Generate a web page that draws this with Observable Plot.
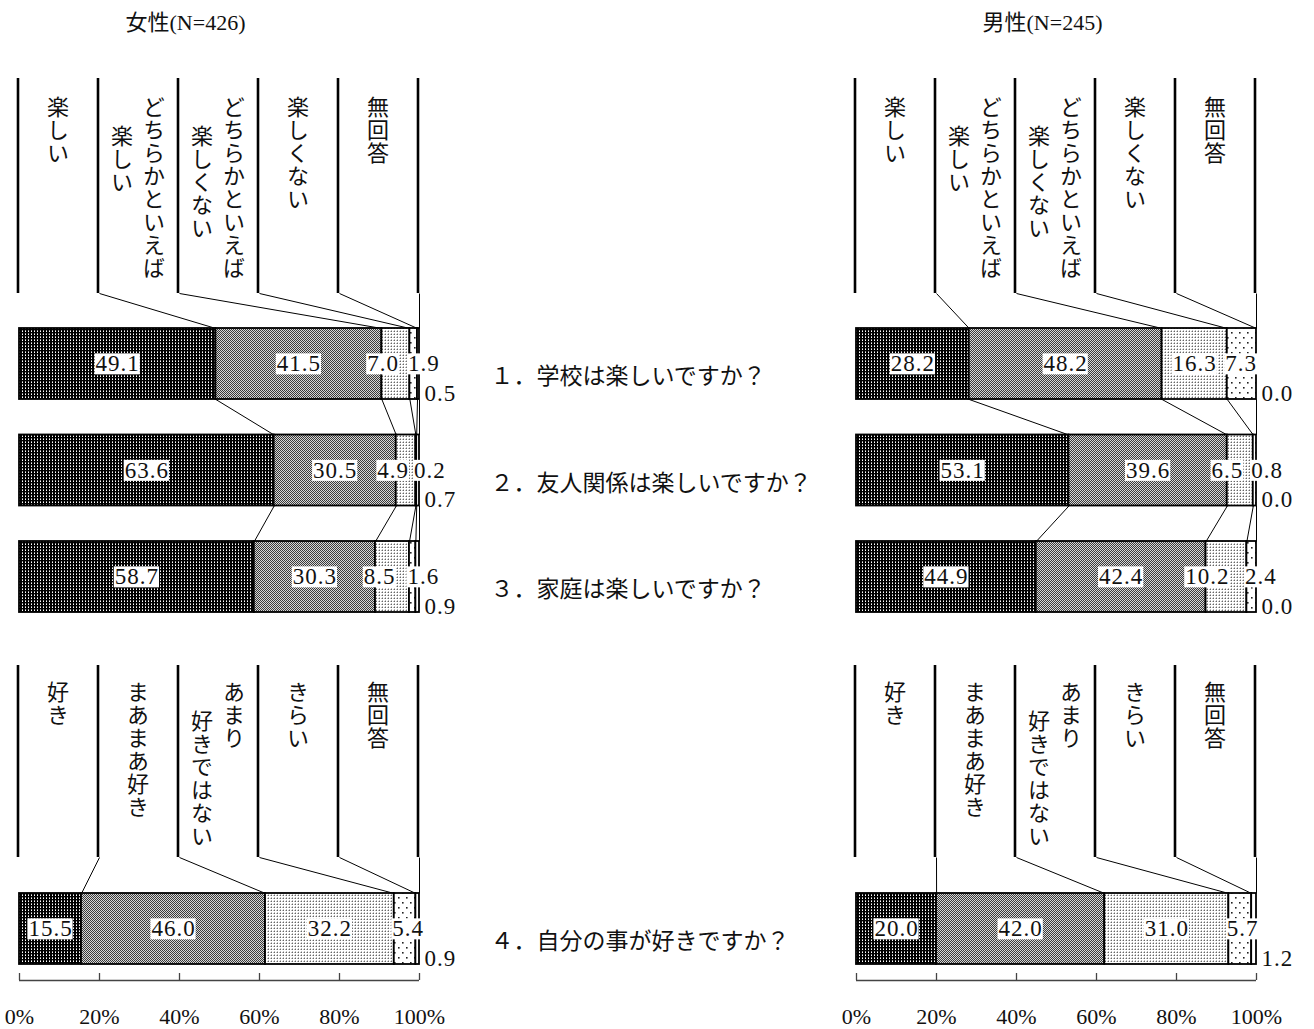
<!DOCTYPE html>
<html>
<head>
<meta charset="utf-8">
<script src="https://cdn.jsdelivr.net/npm/d3@7"></script>
<script src="https://cdn.jsdelivr.net/npm/@observablehq/plot@0.6"></script>
<style>
  body { margin: 0; background: #fff; }
  #chart svg { display: block; }
</style>
</head>
<body>
<!-- Hatch fills for the five answer categories -->
<svg width="0" height="0" style="position:absolute">
  <defs>
    <pattern id="fill-0" width="3" height="3" patternUnits="userSpaceOnUse">
      <rect width="3" height="3" fill="#000"/>
      <rect x="1" y="1" width="1" height="1" fill="#fff"/>
      <rect x="1" y="0" width="1" height="1" fill="#9a9a9a"/>
    </pattern>
    <pattern id="fill-1" width="2" height="2" patternUnits="userSpaceOnUse">
      <rect width="2" height="2" fill="#d6d6d6"/>
      <rect x="0" y="0" width="1" height="1" fill="#3a3a3a"/>
      <rect x="1" y="1" width="1" height="1" fill="#3a3a3a"/>
    </pattern>
    <pattern id="fill-2" width="3" height="3" patternUnits="userSpaceOnUse">
      <rect width="3" height="3" fill="#fff"/>
      <rect x="1" y="1" width="1" height="1" fill="#666"/>
      <rect x="1" y="0" width="1" height="1" fill="#bdbdbd"/>
      <rect x="0" y="1" width="1" height="1" fill="#bdbdbd"/>
    </pattern>
    <pattern id="fill-3" width="8" height="10" patternUnits="userSpaceOnUse">
      <rect width="8" height="10" fill="#fff"/>
      <rect x="2" y="2" width="1.6" height="1.6" fill="#222"/>
      <rect x="6" y="7" width="1.6" height="1.6" fill="#222"/>
    </pattern>
    <pattern id="fill-4" width="4" height="4" patternUnits="userSpaceOnUse">
      <rect width="4" height="4" fill="#fff"/>
    </pattern>
  </defs>
</svg>
<div id="chart"></div>
<script>
// ---- Survey results (percent of respondents) ----
const sexes = ["女性", "男性"];
const sampleSizes = [426, 245];
const questions = [
  "１．学校は楽しいですか？",
  "２．友人関係は楽しいですか？",
  "３．家庭は楽しいですか？",
  "４．自分の事が好きですか？"
];
// answer scale for questions 1-3
const enjoyCategories = ["楽しい", "どちらかといえば\n楽しい", "どちらかといえば\n楽しくない", "楽しくない", "無回答"];
// answer scale for question 4
const likeCategories = ["好き", "まあまあ好き", "あまり\n好きではない", "きらい", "無回答"];
const femaleShares = [
  [49.1, 41.5, 7.0, 1.9, 0.5],
  [63.6, 30.5, 4.9, 0.2, 0.7],
  [58.7, 30.3, 8.5, 1.6, 0.9],
  [15.5, 46.0, 32.2, 5.4, 0.9]
];
const maleShares = [
  [28.2, 48.2, 16.3, 7.3, 0.0],
  [53.1, 39.6, 6.5, 0.8, 0.0],
  [44.9, 42.4, 10.2, 2.4, 0.0],
  [20.0, 42.0, 31.0, 5.7, 1.2]
];
const axisTicks = [0, 20, 40, 60, 80, 100];

// ---- Page layout (pixels) ----
const W = 1314, H = 1029;
const panelLeft = 19, panelWidth = 400, panelGap = 437;
const pxPerUnit = panelWidth / 100;
const layout = {
  titleY: 22,
  titleX: [41.5, 46.5],
  upperHeader: {top: 78, bottom: 293, textTop: 95},
  lowerHeader: {top: 665, bottom: 857, textTop: 680},
  rowTops: [328, 434.5, 541, 893],
  barHeight: 71,
  axisY: 980, tickLen: 7, tickLabelY: 1016,
  questionX: 117.75, questionDy: 13,
  columnPitch: 32,   // distance between text columns of one header cell
  columnDrop: 29     // following columns start one character lower
};
const jpFont = '"Noto Sans CJK JP", sans-serif';
const numFont = '"Liberation Serif", "Noto Sans CJK JP", serif';
const nCat = enjoyCategories.length;
const edges = d3.range(nCat + 1).map(i => i * 100 / nCat);

// stacked segments, normalised to 100%
const rows = [];
sexes.forEach((sex, s) => {
  const shares = s === 0 ? femaleShares : maleShares;
  shares.forEach((vals, q) => {
    const total = d3.sum(vals);
    let acc = 0;
    vals.forEach((v, c) => {
      const x1 = acc / total * 100;
      acc += v;
      const x2 = acc / total * 100;
      const y1 = layout.rowTops[q];
      rows.push({sex, q, c, value: v, x1, x2, y1, y2: y1 + layout.barHeight, yc: y1 + layout.barHeight / 2});
    });
  });
});
const boundary = (sex, q, i) => i === 0 ? 0 : rows.find(r => r.sex === sex && r.q === q && r.c === i - 1).x2;

const sections = [
  {categories: enjoyCategories, header: layout.upperHeader, rows: [0, 1, 2]},
  {categories: likeCategories, header: layout.lowerHeader, rows: [3]}
];

// leader lines: header cell edges -> first bar, and bar -> next bar
const headerLinks = [], barLinks = [];
sexes.forEach(sex => {
  sections.forEach(sec => {
    const first = sec.rows[0];
    for (let i = 1; i <= nCat; i++) {
      headerLinks.push({sex, x1: edges[i], y1: sec.header.bottom, x2: boundary(sex, first, i), y2: layout.rowTops[first]});
    }
    for (let k = 0; k < sec.rows.length - 1; k++) {
      const a = sec.rows[k], b = sec.rows[k + 1];
      for (let i = 1; i <= nCat; i++) {
        barLinks.push({sex, x1: boundary(sex, a, i), y1: layout.rowTops[a] + layout.barHeight, x2: boundary(sex, b, i), y2: layout.rowTops[b]});
      }
    }
  });
});

// vertical header captions, one entry per text column (right to left)
const headerColumns = sections.flatMap(sec => sec.categories.flatMap((label, c) => {
  const lines = label.split("\n");
  return lines.map((line, j) => ({
    text: line,
    x: (c + 0.5) * 100 / nCat + ((lines.length - 1) / 2 - j) * layout.columnPitch / pxPerUnit,
    y: sec.header.textTop + (j > 0 ? layout.columnDrop : 0)
  }));
}));
const headerEdges = sections.flatMap(sec => edges.map(x => ({x, y1: sec.header.top, y2: sec.header.bottom})));

// value labels: centred when they fit, nudged beside the segment otherwise
const labelSize = 23, labelSpacing = 1;
const ctx = document.createElement("canvas").getContext("2d");
ctx.font = `${labelSize}px "Liberation Serif"`;
const textWidth = s => ctx.measureText(s).width + labelSpacing * s.length;
const valueLabels = rows.map(r => {
  const label = r.value.toFixed(1);
  const segW = (r.x2 - r.x1) * pxPerUnit;
  let kind;
  if (segW >= textWidth(label) + 4) kind = "center";
  else if (r.c === nCat - 1) kind = "after";
  else if (r.c === nCat - 2) kind = "start";
  else kind = "end";
  return {...r, label, kind};
});
const labelsOf = kind => valueLabels.filter(d => d.kind === kind);
const labelStyle = {fx: "sex", text: "label", fontSize: labelSize, fontFamily: numFont, fill: "#111", ariaDescription: "value labels", lineAnchor: "middle"};

const titles = sexes.map((sex, i) => ({sex, text: `${sex}(N=${sampleSizes[i]})`, x: layout.titleX[i]}));
const questionLabels = questions.map((text, q) => ({sex: sexes[0], text, y: layout.rowTops[q] + layout.barHeight / 2 + layout.questionDy}));

const chart = Plot.plot({
  width: W,
  height: H,
  marginLeft: panelLeft,
  marginRight: W - panelLeft - 2 * panelWidth - panelGap,
  marginTop: 0,
  marginBottom: 0,
  x: {domain: [0, 100], axis: null},
  y: {domain: [0, H], range: [0, H], axis: null},
  fx: {domain: sexes, axis: null, paddingInner: panelGap / (panelWidth + panelGap), paddingOuter: 0, round: false},
  color: {type: "ordinal", domain: d3.range(nCat), range: d3.range(nCat).map(i => `url(#fill-${i})`)},
  style: {background: "#fff", color: "#111"},
  marks: [
    // panel titles
    Plot.text(titles, {fx: "sex", x: "x", y: layout.titleY, text: "text", fontSize: 22, fontFamily: numFont}),
    // header cells
    Plot.ruleX(headerEdges, {x: "x", y1: "y1", y2: "y2", stroke: "#000", strokeWidth: 2.6, dx: -1.5}),
    Plot.text(headerColumns, {x: "x", y: "y", text: "text", fontSize: 22, fontFamily: jpFont, textAnchor: "start", dx: -1.5, ariaDescription: "header labels"}),
    // leader lines
    Plot.link(headerLinks, {fx: "sex", x1: "x1", y1: "y1", x2: "x2", y2: "y2", stroke: "#000", strokeWidth: 1}),
    Plot.link(barLinks, {fx: "sex", x1: "x1", y1: "y1", x2: "x2", y2: "y2", stroke: "#000", strokeWidth: 1}),
    // stacked bars
    Plot.rect(rows, {fx: "sex", x1: "x1", x2: "x2", y1: "y1", y2: "y2", fill: "c", stroke: "#000", strokeWidth: 1.8}),
    // value labels
    Plot.text(labelsOf("center"), {...labelStyle, x: d => (d.x1 + d.x2) / 2, y: "yc", textAnchor: "middle"}),
    Plot.text(labelsOf("end"), {...labelStyle, x: d => (d.x1 + d.x2) / 2, y: "yc", textAnchor: "end", dx: 3}),
    Plot.text(labelsOf("start"), {...labelStyle, x: "x1", y: "yc", textAnchor: "start", dx: -2}),
    Plot.text(labelsOf("after"), {...labelStyle, x: 100, y: d => d.y2 - 6, textAnchor: "start", dx: 5}),
    // question captions between the panels
    Plot.text(questionLabels, {fx: "sex", x: layout.questionX, y: "y", text: "text", fontSize: 23, fontFamily: jpFont, textAnchor: "start"}),
    // percent axis
    Plot.ruleY([layout.axisY], {x1: 0, x2: 100, stroke: "#444", strokeWidth: 1.3}),
    Plot.ruleX(axisTicks, {x: d => d, y1: layout.axisY - layout.tickLen, y2: layout.axisY, stroke: "#444", strokeWidth: 1.3}),
    Plot.text(axisTicks, {x: d => d, y: layout.tickLabelY, text: d => `${d}%`, fontSize: 22, fontFamily: numFont})
  ]
});

document.getElementById("chart").append(chart);

// vertical writing for the header captions
chart.querySelectorAll('g[aria-description="header labels"] text').forEach(t => {
  t.setAttribute("writing-mode", "vertical-rl");
  t.style.writingMode = "vertical-rl";
  t.style.textOrientation = "upright";
  t.removeAttribute("y");
  t.removeAttribute("dy");
  t.style.letterSpacing = "1px";
});

// white boxes behind the value labels
chart.querySelectorAll('g[aria-description="value labels"] text').forEach(t => {
  t.style.letterSpacing = `${labelSpacing}px`;
  const b = t.getBBox();
  const r = document.createElementNS("http://www.w3.org/2000/svg", "rect");
  r.setAttribute("x", b.x - 1);
  r.setAttribute("y", b.y + 2);
  r.setAttribute("width", b.width + 1);
  r.setAttribute("height", b.height - 4);
  r.setAttribute("fill", "#fff");
  r.setAttribute("stroke", "none");
  const tr = t.getAttribute("transform");
  if (tr) r.setAttribute("transform", tr);
  t.parentNode.insertBefore(r, t);
});
</script>
</body>
</html>
